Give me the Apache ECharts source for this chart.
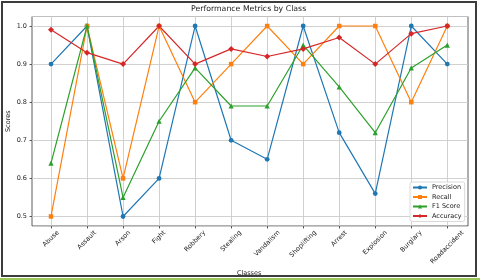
<!DOCTYPE html>
<html>
<head>
<meta charset="utf-8">
<script src="https://cdn.jsdelivr.net/npm/echarts@6/dist/echarts.min.js"></script>
<style>
html,body{margin:0;padding:0;background:#fff;}
#frame{position:absolute;left:1px;top:1px;width:476px;height:276px;border:2px solid #3c3c3c;box-sizing:border-box;}
#strip{position:absolute;left:0;top:278px;width:480px;height:2px;background:#9bc75a;}
#chart{position:absolute;left:0;top:0;width:480px;height:280px;}
</style>
</head>
<body>
<div id="frame"></div>
<div id="strip"></div>
<div id="chart"></div>
<script>
const categories = ['Abuse','Assault','Arson','Fight','Robbery','Stealing','Vandalism','Shoplifting','Arrest','Explosion','Burglary','Roadaccident'];
const precision = [0.90, 1.00, 0.50, 0.60, 1.00, 0.70, 0.65, 1.00, 0.72, 0.56, 1.00, 0.90];
const recall    = [0.50, 1.00, 0.60, 1.00, 0.80, 0.90, 1.00, 0.90, 1.00, 1.00, 0.80, 1.00];
const f1score   = [0.64, 1.00, 0.55, 0.75, 0.89, 0.79, 0.79, 0.95, 0.84, 0.72, 0.89, 0.95];
const accuracy  = [0.99, 0.93, 0.90, 1.00, 0.90, 0.94, 0.92, 0.94, 0.97, 0.90, 0.98, 1.00];
const seriesNames = ['Precision','Recall','F1 Score','Accuracy'];
const yTicks = [0.5, 0.6, 0.7, 0.8, 0.9, 1.0];

const FONT = 'DejaVu Sans';
const LABEL_SIZE = 6.5;
const colors = ['#1f77b4','#ff7f0e','#2ca02c','#d62728'];
const symbols = ['circle','rect','triangle','path://M0,-1L1,0L0,1L-1,0Z'];
const symbolSizes = [4.8, 4.5, 5.2, 6];

// measure label widths to mimic matplotlib's centered rotated labels
const cv = document.createElement('canvas').getContext('2d');
cv.font = LABEL_SIZE + 'px "' + FONT + '"';
const xData = categories.map(c => {
  const L = cv.measureText(c).width;
  const q = 0.25 * (L + 5);
  const p = Math.max(0, q - 3.6);
  const r = 2 * q;
  return { value: c, textStyle: { padding: [p, r, 0, 0], align: 'center', verticalAlign: 'top' } };
});

const G = { left: 32, right: 12, top: 16.5, bottom: 54 };
const G2 = { left: 51, right: 32.7, top: 16.5, bottom: 54 };
const yMin = 0.475, yMax = 1.025;
const allData = [precision, recall, f1score, accuracy];

const chart = echarts.init(document.getElementById('chart'), null, { renderer: 'canvas' });
chart.setOption({
  animation: false,
  textStyle: { fontFamily: FONT },
  title: {
    text: 'Performance Metrics by Class',
    left: 191, top: 5, padding: 0,
    textStyle: { fontFamily: FONT, fontSize: 7.8, fontWeight: 'normal', color: '#222' }
  },
  legend: {
    data: seriesNames,
    orient: 'vertical',
    left: 410, top: 182,
    padding: [2, 3, 2, 2],
    itemWidth: 14, itemHeight: 5, itemGap: 2.5,
    borderColor: '#d0d0d0', borderWidth: 0.8, borderRadius: 2,
    backgroundColor: 'rgba(255,255,255,0.85)',
    textStyle: { fontFamily: FONT, fontSize: LABEL_SIZE, color: '#222' }
  },
  grid: [
    Object.assign({ show: true, borderColor: '#333', borderWidth: 0.8, containLabel: false, outerBoundsMode: 'none' }, G),
    Object.assign({ show: false, containLabel: false, outerBoundsMode: 'none' }, G2)
  ],
  xAxis: [
    { gridIndex: 0, type: 'value', min: 0, max: 1, show: false },
    {
      gridIndex: 1, type: 'category', data: xData, boundaryGap: false,
      name: 'Classes', nameLocation: 'middle', nameGap: 44, nameMoveOverlap: false,
      nameTextStyle: { fontFamily: FONT, fontSize: LABEL_SIZE, color: '#222' },
      axisLine: { show: false },
      axisTick: { show: true, length: 2.5, lineStyle: { color: '#333', width: 0.8 } },
      axisLabel: { rotate: 45, align: 'center', verticalAlign: 'top', margin: 4, interval: 0,
        hideOverlap: false,
        fontFamily: FONT, fontSize: LABEL_SIZE, color: '#222' },
      splitLine: { show: true, lineStyle: { color: '#cccccc', width: 0.9 } }
    }
  ],
  yAxis: [
    {
      gridIndex: 0, type: 'value', min: yMin, max: yMax, minInterval: 0.1, maxInterval: 0.1,
      name: 'Scores', nameLocation: 'middle', nameGap: 20, nameMoveOverlap: false,
      nameTextStyle: { fontFamily: FONT, fontSize: LABEL_SIZE, color: '#222' },
      axisLine: { show: false },
      axisTick: { show: true, length: 2.5, lineStyle: { color: '#333', width: 0.8 } },
      axisLabel: { showMinLabel: false, showMaxLabel: false, margin: 5,
        fontFamily: FONT, fontSize: LABEL_SIZE, color: '#222',
        formatter: v => yTicks.some(t => Math.abs(t - v) < 1e-6) ? v.toFixed(1) : '' },
      splitLine: { show: true, lineStyle: { color: '#cccccc', width: 0.9 } }
    },
    { gridIndex: 1, type: 'value', min: yMin, max: yMax, show: false }
  ],
  series: seriesNames.map((n, i) => ({
    name: n, type: 'line', xAxisIndex: 1, yAxisIndex: 1,
    data: allData[i],
    symbol: symbols[i], symbolSize: symbolSizes[i], showAllSymbol: true,
    itemStyle: { color: colors[i] },
    lineStyle: { color: colors[i], width: 1.2 }
  }))
});
</script>
</body>
</html>
